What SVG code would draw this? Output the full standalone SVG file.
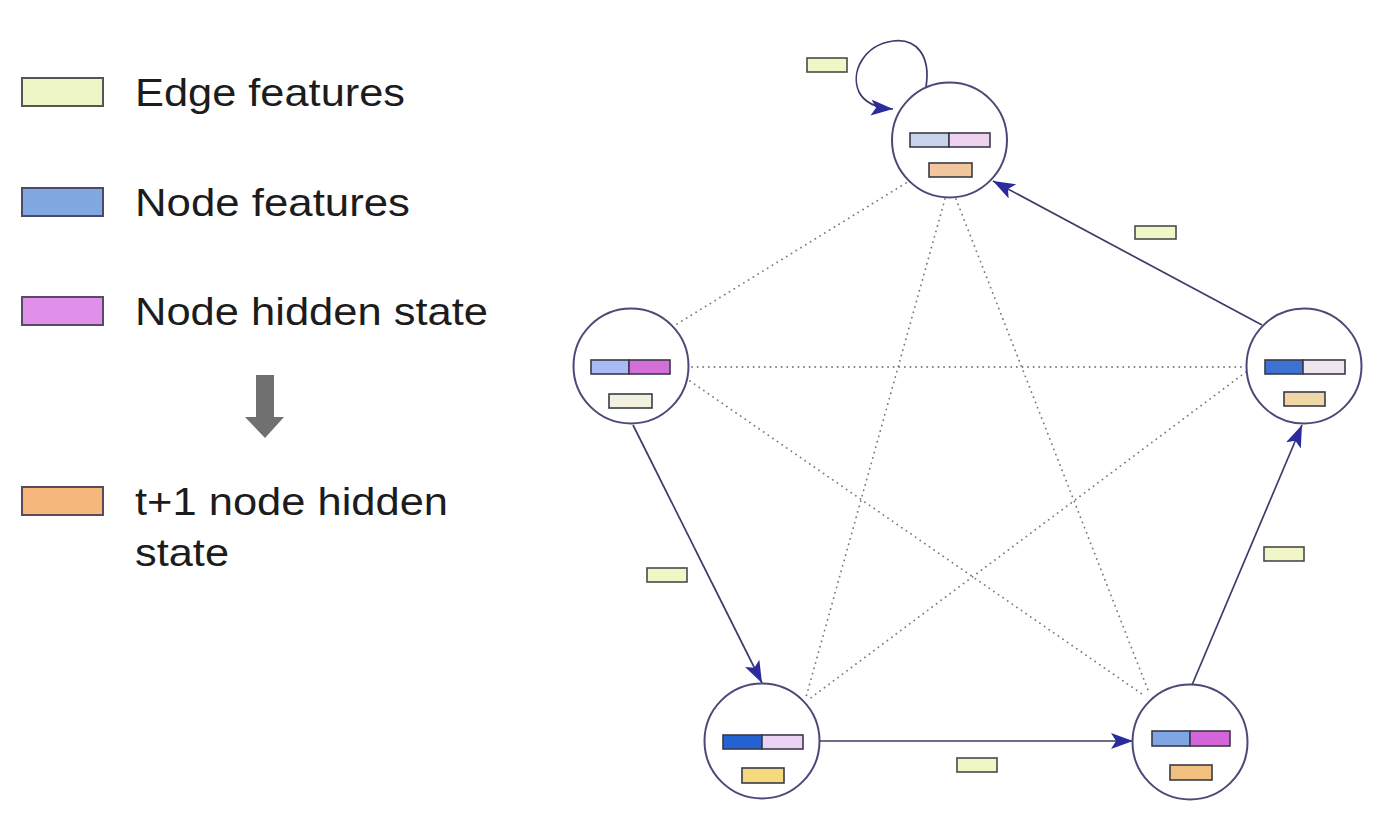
<svg xmlns="http://www.w3.org/2000/svg" width="1388" height="838" viewBox="0 0 1388 838">
<defs>
<marker id="arr" markerUnits="userSpaceOnUse" markerWidth="24" markerHeight="18" refX="22" refY="8" orient="auto">
<path d="M0,0 L22,8 L0,16 L5,8 z" fill="#2b2b9e"/>
</marker>
</defs>
<style>
.lg{font-family:"Liberation Sans",Arial,sans-serif;font-size:39px;fill:#1c1c1c}
.node{fill:#fff;stroke:#4a4a78;stroke-width:2}
.bar{stroke:#3a3a4a;stroke-width:1.6}
.ef{fill:#f1f6c6;stroke:#4a4a4a;stroke-width:1.6}
.sol{fill:none;stroke:#3c3c68;stroke-width:1.7}
.dot{fill:none;stroke:#7a7a7a;stroke-width:1.8;stroke-dasharray:0.1 5.5;stroke-linecap:round}
</style>
<rect width="1388" height="838" fill="#fff"/>
<g id="legend">
<rect x="22" y="78" width="81" height="28" fill="#eff6c6" stroke="#555" stroke-width="2"/>
<text class="lg" x="135" y="106" textLength="270" lengthAdjust="spacingAndGlyphs">Edge features</text>
<rect x="22" y="188" width="81" height="28" fill="#82a8e0" stroke="#4a4a6a" stroke-width="2"/>
<text class="lg" x="135" y="216" textLength="275" lengthAdjust="spacingAndGlyphs">Node features</text>
<rect x="22" y="297" width="81" height="28" fill="#e090e8" stroke="#5a4a6a" stroke-width="2"/>
<text class="lg" x="135" y="325" textLength="353" lengthAdjust="spacingAndGlyphs">Node hidden state</text>
<path d="M256,375 L274,375 L274,417 L284,417 L265,438 L245,417 L256,417 z" fill="#707070"/>
<rect x="22" y="487" width="81" height="28" fill="#f5b87a" stroke="#5a4a5a" stroke-width="2"/>
<text class="lg" x="135" y="515" textLength="313" lengthAdjust="spacingAndGlyphs">t+1 node hidden</text>
<text class="lg" x="135" y="566" textLength="94" lengthAdjust="spacingAndGlyphs">state</text>
</g>
<g id="connectors">
<line class="dot" x1="677" y1="324" x2="906" y2="183"/>
<line class="dot" x1="692" y1="367" x2="1244" y2="367"/>
<line class="dot" x1="690" y1="381" x2="1142" y2="694"/>
<line class="dot" x1="945" y1="199" x2="806" y2="697"/>
<line class="dot" x1="956" y1="199" x2="1148" y2="690"/>
<line class="dot" x1="1246" y1="372" x2="808" y2="700"/>
<line class="sol" x1="1262" y1="325" x2="993" y2="181" marker-end="url(#arr)"/>
<line class="sol" x1="633" y1="425" x2="762" y2="683" marker-end="url(#arr)"/>
<line class="sol" x1="819" y1="741" x2="1133" y2="741" marker-end="url(#arr)"/>
<line class="sol" x1="1192" y1="685" x2="1302" y2="425" marker-end="url(#arr)"/>
<path class="sol" d="M926,87 C931,55 916,38 893,41 C864,45 850,72 859,92 C865,104 878,108 893,109" marker-end="url(#arr)"/>
</g>
<g id="edge-features">
<rect class="ef" x="807" y="58" width="40" height="14"/>
<rect class="ef" x="1135" y="226" width="41" height="13"/>
<rect class="ef" x="647" y="568" width="40" height="14"/>
<rect class="ef" x="1264" y="547" width="40" height="14"/>
<rect class="ef" x="957" y="758" width="40" height="14"/>
</g>
<g id="node-top">
<circle class="node" cx="949.5" cy="140" r="57.5"/>
<rect class="bar" x="910" y="133" width="39" height="14" fill="#c8d2ea"/>
<rect class="bar" x="949" y="133" width="41" height="14" fill="#eed2f0"/>
<rect class="bar" x="929" y="163" width="43" height="14" fill="#f3c79e"/>
</g>
<g id="node-left">
<circle class="node" cx="631" cy="366" r="57.5"/>
<rect class="bar" x="591" y="360" width="38" height="14" fill="#a9baf4"/>
<rect class="bar" x="629" y="360" width="41" height="14" fill="#d46ed8"/>
<rect class="bar" x="609" y="394" width="43" height="14" fill="#f2f0de"/>
</g>
<g id="node-right">
<circle class="node" cx="1304" cy="366" r="57.5"/>
<rect class="bar" x="1265" y="360" width="38" height="14" fill="#3d72d2"/>
<rect class="bar" x="1303" y="360" width="42" height="14" fill="#eee6ec"/>
<rect class="bar" x="1284" y="392" width="41" height="14" fill="#f0d8a6"/>
</g>
<g id="node-bottom-left">
<circle class="node" cx="762" cy="741" r="57.5"/>
<rect class="bar" x="723" y="735" width="39" height="14" fill="#2462d4"/>
<rect class="bar" x="762" y="735" width="41" height="14" fill="#ead2f4"/>
<rect class="bar" x="742" y="768" width="42" height="15" fill="#f6d97e"/>
</g>
<g id="node-bottom-right">
<circle class="node" cx="1190" cy="742" r="57.5"/>
<rect class="bar" x="1152" y="731" width="38" height="15" fill="#7fa5e2"/>
<rect class="bar" x="1190" y="731" width="40" height="15" fill="#d464da"/>
<rect class="bar" x="1170" y="765" width="42" height="15" fill="#f2c07e"/>
</g>
</svg>
